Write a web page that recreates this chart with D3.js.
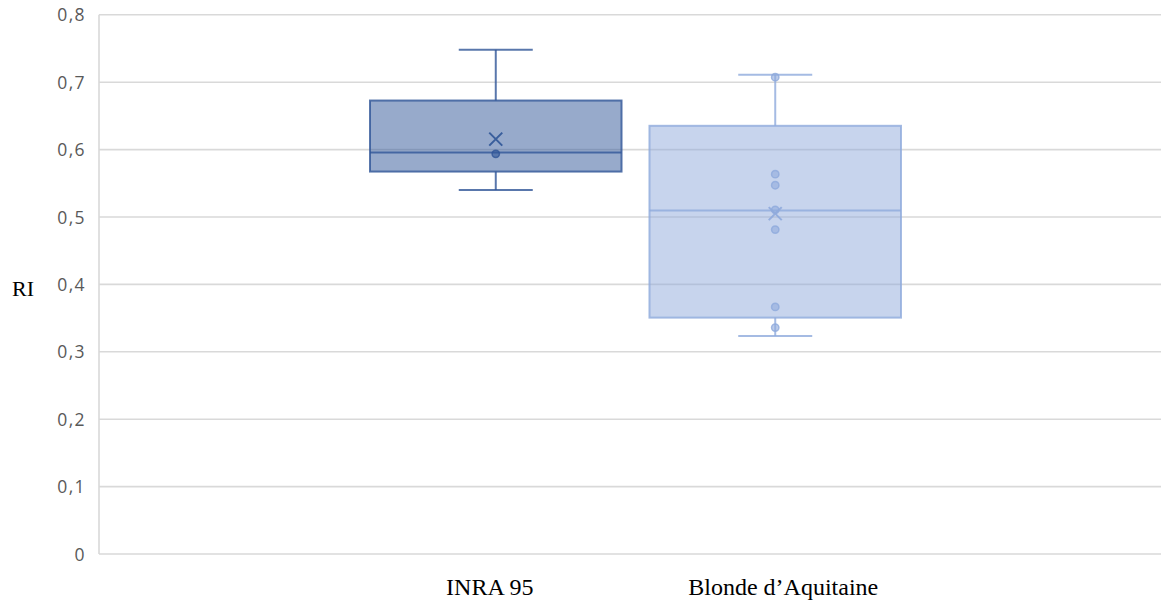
<!DOCTYPE html>
<html><head><meta charset="utf-8">
<script src="https://cdn.jsdelivr.net/npm/d3@7"></script>
<style>body{margin:0;background:#fff}svg{display:block}</style>
</head><body>
<svg id="c" width="1161" height="600"></svg>
<script>
const series = ["INRA 95", "Blonde d\u2019Aquitaine"];
const whiskerLow  = [0.540, 0.3236];
const q1          = [0.5674, 0.3507];
const median      = [0.5956, 0.5095];
const q3          = [0.6728, 0.6353];
const whiskerHigh = [0.748, 0.711];
const means       = [0.6155, 0.505];
const points      = [[0.5937], [0.7075, 0.5636, 0.5472, 0.5106, 0.4813, 0.3666, 0.3359]];
const yTicks      = [0, 0.1, 0.2, 0.3, 0.4, 0.5, 0.6, 0.7, 0.8];
const yLabel      = "RI";

const colors = ["#2F5597", "#8FAADC"];
const svg = d3.select("#c");
const y = d3.scaleLinear().domain([0, 0.8]).range([554, 14.8]);
const x = d3.scaleBand().domain(series).range([370, 901]).paddingInner(0.1).paddingOuter(0);
const fmt = d => d === 0 ? "0" : d3.format(".1f")(d).replace(".", ",");

// gridlines
svg.append("g").selectAll("line").data(yTicks).join("line")
  .attr("x1", 99).attr("x2", 1161)
  .attr("y1", d => y(d)).attr("y2", d => y(d))
  .attr("stroke", "#d9d9d9").attr("stroke-width", 1.6);
svg.append("line").attr("x1", 99).attr("x2", 99).attr("y1", y(0.8)).attr("y2", y(0))
  .attr("stroke", "#d9d9d9").attr("stroke-width", 1.6);

// y axis labels
const yAxis = d3.axisLeft(y).tickValues(yTicks).tickFormat(fmt).tickSize(0).tickPadding(0);
const ga = svg.append("g").attr("transform", "translate(86,0)").call(yAxis);
ga.select(".domain").remove();
ga.selectAll("text").attr("font-family", "Open Sans, sans-serif").attr("font-size", 17.5)
  .attr("letter-spacing", 1.4).attr("fill", "#595959").attr("dy", "0.35em");

svg.append("text").attr("x", 12).attr("y", 296).text(yLabel)
  .attr("font-family", "Liberation Serif, Times New Roman, serif").attr("font-size", 22).attr("fill", "#000");

// x labels
const labelDx = [-6, 8];
svg.append("g").selectAll("text").data(series).join("text")
  .attr("x", (d, i) => x(d) + x.bandwidth() / 2 + labelDx[i]).attr("y", 595)
  .attr("text-anchor", "middle").text(d => d)
  .attr("font-family", "Liberation Serif, Times New Roman, serif").attr("font-size", 24).attr("fill", "#000");

// boxes
series.forEach((s, i) => {
  const g = svg.append("g");
  const c = colors[i];
  const x0 = x(s), w = x.bandwidth(), cx = x0 + w / 2;
  const cap = 37;
  const so = 0.8;
  g.append("line").attr("x1", cx).attr("x2", cx).attr("y1", y(whiskerHigh[i])).attr("y2", y(q3[i]))
    .attr("stroke", c).attr("stroke-opacity", so).attr("stroke-width", 2);
  g.append("line").attr("x1", cx).attr("x2", cx).attr("y1", y(q1[i])).attr("y2", y(whiskerLow[i]))
    .attr("stroke", c).attr("stroke-opacity", so).attr("stroke-width", 2);
  [whiskerHigh[i], whiskerLow[i]].forEach(v => {
    g.append("line").attr("x1", cx - cap).attr("x2", cx + cap).attr("y1", y(v)).attr("y2", y(v))
      .attr("stroke", c).attr("stroke-opacity", so).attr("stroke-width", 2);
  });
  g.append("rect").attr("x", x0).attr("width", w).attr("y", y(q3[i])).attr("height", y(q1[i]) - y(q3[i]))
    .attr("fill", c).attr("fill-opacity", 0.5).attr("stroke", c).attr("stroke-opacity", so).attr("stroke-width", 2);
  g.append("line").attr("x1", x0).attr("x2", x0 + w).attr("y1", y(median[i])).attr("y2", y(median[i]))
    .attr("stroke", c).attr("stroke-opacity", so).attr("stroke-width", 2);
  g.selectAll("circle").data(points[i]).join("circle")
    .attr("cx", cx).attr("cy", d => y(d)).attr("r", 3.7)
    .attr("fill", c).attr("fill-opacity", 0.6).attr("stroke", c).attr("stroke-opacity", so).attr("stroke-width", 1.5);
  const my = y(means[i]), m = 6.5;
  g.append("path").attr("d", `M${cx - m},${my - m}L${cx + m},${my + m}M${cx - m},${my + m}L${cx + m},${my - m}`)
    .attr("stroke", c).attr("stroke-opacity", 0.9).attr("stroke-width", 2).attr("fill", "none");
});
</script>
</body></html>
